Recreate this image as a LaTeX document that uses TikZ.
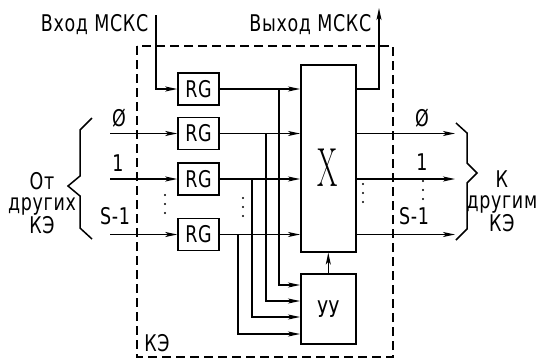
\documentclass[tikz,border=0pt]{standalone}
\usepackage{fontspec}
\setsansfont{DejaVu Sans}[FakeStretch=0.76,LetterSpace=3]
\usetikzlibrary{arrows.meta,positioning}
\tikzset{reg/.style={draw,line width=1.5pt,minimum width=41pt,minimum height=32pt,inner sep=0pt,
 font=\sffamily\fontsize{23}{23}\selectfont},lbl/.style={inner sep=0pt,font=\sffamily\fontsize{23}{21}\selectfont},
 arr/.style={-{Stealth[length=12pt,width=5pt,inset=3pt]},line width=1.5pt}}
\begin{document}
\begin{tikzpicture}[x=1pt,y=-1pt,line width=1.5pt]
\useasboundingbox (0,0) rectangle (539,360);
\draw[dash pattern=on 9pt off 5pt] (137,46) rectangle (393,357);
\node[lbl] (ke) at (157,343) {КЭ};

\node[reg] (rgin) at (198.5,89) {RG};
\node[reg,below=11pt of rgin] (rg0) {RG};
\node[reg,below=12pt of rg0] (rg1) {RG};
\node[reg,below=22pt of rg1] (rgs) {RG};
\node[reg,minimum width=55pt,minimum height=187pt] (sw) at (328.3,158.3) {};
\node[inner sep=0pt,font=\rmfamily\fontsize{55}{55}\selectfont] (cross) at (328,168) {\scalebox{0.53}[1]{X}};
\node[reg,minimum width=55pt,minimum height=70pt] (ctl) at (328.3,309) {\char"0423\char"0423};

\coordinate (inTop) at (156,15);
\coordinate (outTop) at (379,8);
\draw[arr] (inTop) |- (rgin.west);
\draw[arr] (sw.east |- rgin.east) -| (outTop);
\node[lbl,anchor=east] (inlbl) at (149,25) {Вход МСКС};
\node[lbl,anchor=east] (outlbl) at (372,25) {Выход МСКС};

\foreach \r in {rgin,rg0,rg1,rgs}
 \draw[arr] (\r.east) -- (sw.west |- \r.east);
\foreach \r in {rg0,rg1,rgs}{
 \coordinate (i\r) at (110,0 |- \r.west);
 \coordinate (o\r) at (455,0 |- \r.east);
 \draw[arr] (i\r) -- (\r.west);
 \draw[arr] (sw.east |- \r.east) -- (o\r);
}
\foreach \r/\x/\d in {rgin/279/24,rg0/266/8,rg1/252/-8,rgs/238/-25}
 \draw[arr] (\x,0 |- \r.east) |- ([yshift=\d pt]ctl.west);
\draw[arr] (ctl) -- (sw);

\node[lbl,anchor=south] (l0) at (119,128) {Ø};
\node[lbl,anchor=south] (l1) at (118,172) {1};
\node[lbl,anchor=south] (ls) at (115,226) {S-1};
\node[lbl,anchor=south] (r0) at (422,128) {Ø};
\node[lbl,anchor=south] (r1) at (422,171) {1};
\node[lbl,anchor=south] (rs) at (414,226) {S-1};

\foreach \x/\y in {165/195,243/198,363/184,423/181}
 \foreach \k in {0,1,2} \fill (\x,\y+9*\k) circle (1.2pt);

\draw (92,118) -- (80,130) -- (80,176) -- (68,186) -- (80,196) -- (80,228) -- (92,239);
\draw (456,123) -- (467,133) -- (467,163) -- (477,173) -- (467,183) -- (467,229) -- (456,240);
\node[lbl,align=center] (from) at (42,203) {От\\других\\КЭ};
\node[lbl,align=center,anchor=east] (to) at (538,201) {К\\другим\\КЭ};
\end{tikzpicture}
\end{document}
